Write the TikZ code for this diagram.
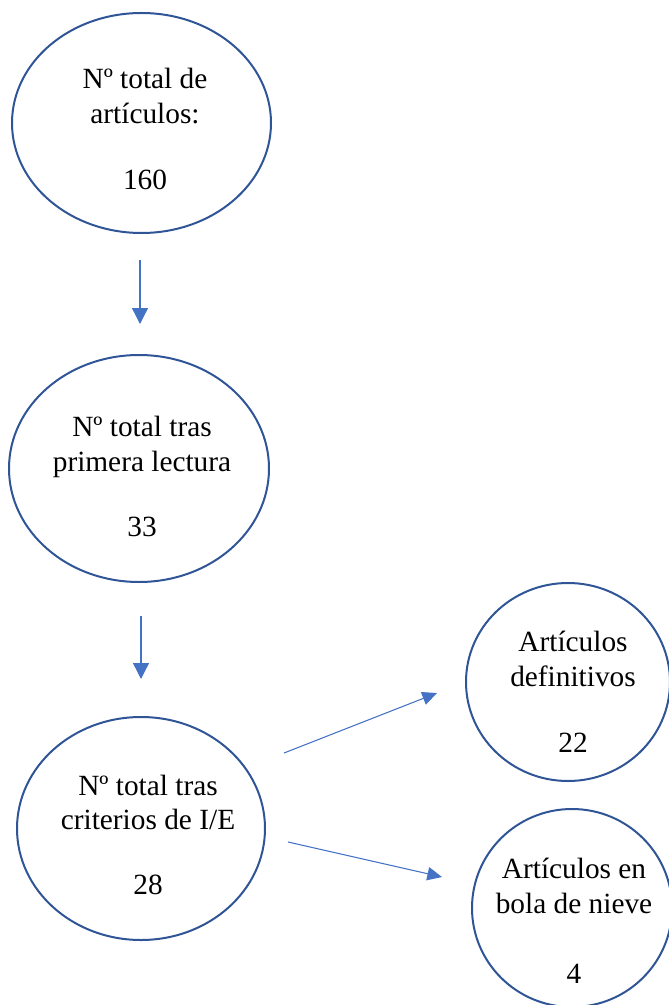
\documentclass[tikz,border=0pt]{standalone}
\usepackage{fontspec}
\setmainfont{Liberation Serif}
\usetikzlibrary{shapes.geometric,arrows.meta,calc}
\definecolor{edgeblue}{HTML}{2F5597}
\definecolor{arrowblue}{HTML}{4472C4}
\begin{document}
\begin{tikzpicture}[x=0.75pt,y=-0.75pt,
  oval/.style={ellipse,draw=edgeblue,line width=1.5pt,inner sep=0pt},
  txt/.style={align=center,font=\fontsize{22}{26}\selectfont,inner sep=0pt},
  varr/.style={draw=arrowblue,line width=1pt,-{Triangle[width=12pt,length=12pt]}},
  darr/.style={draw=arrowblue,line width=0.8pt,-{Triangle[width=10pt,length=11pt]}}]
\useasboundingbox (0,0) rectangle (668,1005);
\node[oval,minimum width=194.25pt,minimum height=165pt] (e1) at (141.5,123) {};
\node[oval,minimum width=195pt,minimum height=170.25pt] (e2) at (139,468.5) {};
\node[oval,minimum width=186pt,minimum height=167.25pt] (e3) at (141,828.5) {};
\node[oval,minimum width=153pt,minimum height=148.5pt] (c4) at (568,682) {};
\node[oval,minimum width=150pt,minimum height=148.5pt] (c5) at (572,908) {};
\node[txt] (t1) at (145,129) {Nº total de\\artículos:\\[24pt]160};
\node[txt] (t2) at (142,476.5) {Nº total tras\\primera lectura\\[22.75pt]33};
\node[txt] (t3) at (148,835) {Nº total tras\\criterios de I/E\\[22.75pt]28};
\node[txt] (t4) at (573,692) {Artículos\\definitivos\\[24pt]22};
\node[txt] (t5) at (574,921) {Artículos en\\bola de nieve\\[26.5pt]4};
\draw[varr] ($(e1.south)+(-1.5,26)$) -- ($(e2.north)+(1,-30)$);
\draw[varr] ($(e2.south)+(2,33)$) -- ($(e3.north)+(0,-37)$);
\draw[darr] ($(e3.center)+(143,-75.5)$) -- ($(c4.center)+(-131,11)$);
\draw[darr] ($(e3.center)+(147,13.5)$) -- ($(c5.center)+(-130,-31)$);
\end{tikzpicture}
\end{document}
